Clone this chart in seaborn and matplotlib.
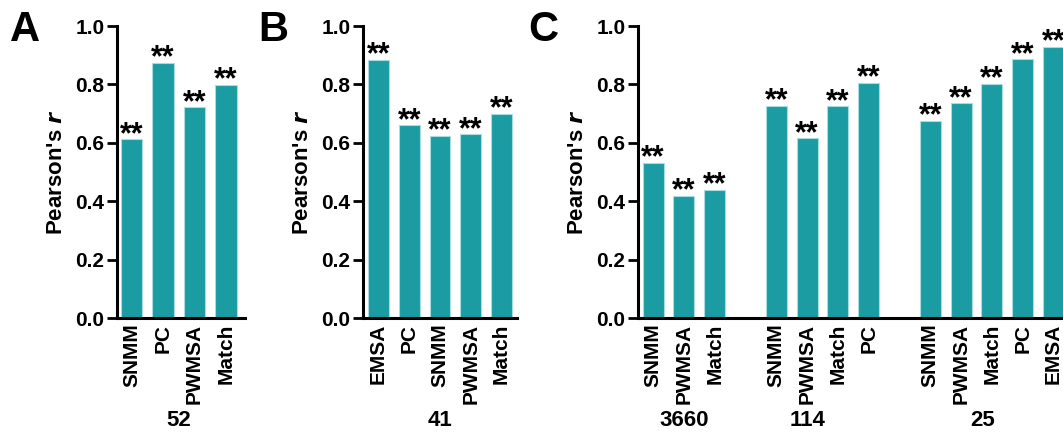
import matplotlib
matplotlib.use("Agg")
import matplotlib.pyplot as plt
import seaborn as sns
import pandas as pd

# panel A (n = 52)
a_methods = ["SNMM", "PC", "PWMSA", "Match"]
a_r = [0.612, 0.874, 0.721, 0.798]

# panel B (n = 41)
b_methods = ["EMSA", "PC", "SNMM", "PWMSA", "Match"]
b_r = [0.884, 0.660, 0.623, 0.629, 0.698]

# panel C, three data sets
c_groups = ["3660", "114", "25"]
c_methods_3660 = ["SNMM", "PWMSA", "Match"]
c_r_3660 = [0.530, 0.419, 0.438]
c_methods_114 = ["SNMM", "PWMSA", "Match", "PC"]
c_r_114 = [0.727, 0.615, 0.725, 0.805]
c_methods_25 = ["SNMM", "PWMSA", "Match", "PC", "EMSA"]
c_r_25 = [0.674, 0.735, 0.801, 0.886, 0.928]

yticks = [0.0, 0.2, 0.4, 0.6, 0.8, 1.0]
bar_color = "#1A9CA2"

sns.set_theme(style="ticks")
plt.rcParams['font.family'] = ['Liberation Sans', 'DejaVu Sans']
plt.rcParams['font.weight'] = 'bold'
for k in ['text.color', 'axes.labelcolor', 'xtick.color', 'ytick.color']:
    plt.rcParams[k] = 'black'
FS = 15


def style_axis(ax, xlim):
    ax.set_ylim(0, 1.0)
    ax.set_xlim(*xlim)
    ax.set_yticks(yticks)
    ax.set_yticklabels(['{:.1f}'.format(t) for t in yticks], fontsize=FS, fontweight='bold')
    ax.tick_params(axis='y', length=7, width=2, pad=2, color='black')
    ax.tick_params(axis='x', length=0, pad=4)
    for s in ['top', 'right']:
        ax.spines[s].set_visible(False)
    for s in ['left', 'bottom']:
        ax.spines[s].set_linewidth(2.2)
        ax.spines[s].set_color('black')
    ax.set_ylabel("Pearson's $\\mathbfit{r}$", fontsize=FS + 1, fontweight='bold', labelpad=6)
    ax.set_xlabel('')


def stars(ax, xs, ys):
    # asterisks sit just above each bar
    for x, y in zip(xs, ys):
        ax.text(x, y - 0.012, '**', ha='center', va='baseline', fontsize=22,
                fontweight='bold', clip_on=False)


def panel(ax, keys, labels, values, order, xlim, group_labels, group_x):
    df = pd.DataFrame({'key': keys, 'r': values})
    sns.barplot(ax=ax, data=df, x='key', y='r', order=order, color=bar_color,
                width=0.68, edgecolor='#A8DDE0', linewidth=0.8, saturation=1)
    pos = [order.index(k) for k in keys]
    ax.set_xticks(pos)
    ax.set_xticklabels(labels, rotation=90, fontsize=FS, fontweight='bold')
    style_axis(ax, xlim)
    stars(ax, pos, values)
    for g, gx in zip(group_labels, group_x):
        ax.text(gx, -0.35, g, ha='center', va='center', fontsize=FS + 1,
                fontweight='bold', transform=ax.get_xaxis_transform())


W, H = 1063, 436
fig = plt.figure(figsize=(W / 100, H / 100), dpi=100)


def add_axes(x0, x1, y0=318, y1=26):
    return fig.add_axes([x0 / W, 1 - y0 / H, (x1 - x0) / W, (y0 - y1) / H])


# A
ax_a = add_axes(117, 245)
keys_a = ['A_' + m for m in a_methods]
panel(ax_a, keys_a, a_methods, a_r, keys_a, (-0.46, 3.6), ['52'], [1.5])

# B
ax_b = add_axes(363, 517)
keys_b = ['B_' + m for m in b_methods]
panel(ax_b, keys_b, b_methods, b_r, keys_b, (-0.5, 4.5), ['41'], [2.0])

# C  (axis runs past the right edge, as in the source figure)
ax_c = add_axes(638, 1072)
keys_c, labels_c, vals_c, order_c = [], [], [], []
c_sets = [(c_groups[0], c_methods_3660, c_r_3660),
          (c_groups[1], c_methods_114, c_r_114),
          (c_groups[2], c_methods_25, c_r_25)]
for i, (g, ms, rs) in enumerate(c_sets):
    for m, r in zip(ms, rs):
        keys_c.append(g + '_' + m)
        labels_c.append(m)
        vals_c.append(r)
        order_c.append(g + '_' + m)
    if i < len(c_sets) - 1:
        order_c.append('gap{}'.format(i))
panel(ax_c, keys_c, labels_c, vals_c, order_c, (-0.49, 13.6), c_groups, [1.0, 5.0, 10.7])

for letter, x in [('A', 25), ('B', 273), ('C', 543)]:
    fig.text(x / W, 1 - 30 / H, letter, ha='center', va='center', fontsize=30,
             fontweight='bold')

fig.savefig('out.png', dpi=100)
